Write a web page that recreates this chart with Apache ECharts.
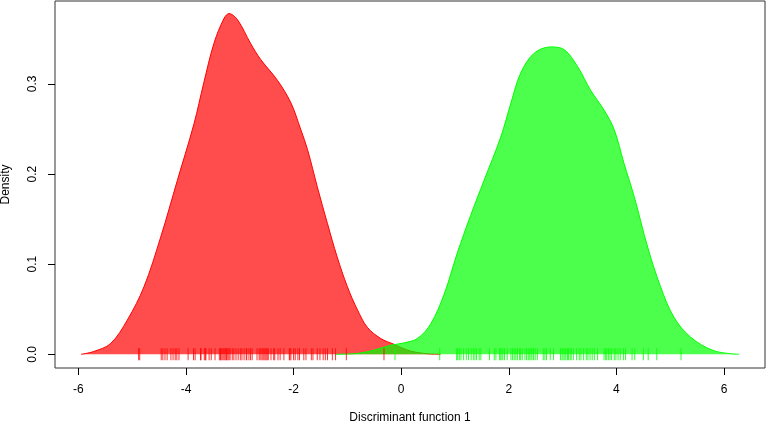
<!DOCTYPE html>
<html>
<head>
<meta charset="utf-8">
<script src="https://cdn.jsdelivr.net/npm/echarts@6/dist/echarts.min.js"></script>
<style>html,body{margin:0;padding:0;background:#fff}#c{width:767px;height:423px}</style>
</head>
<body>
<div id="c"></div>
<script>
// Density curve of group 1 (red)
const redX = [-5.95, -5.72, -5.40, -5.09, -4.78, -4.47, -4.16, -3.85, -3.67, -3.48, -3.29, -3.20, -3.04, -2.80, -2.61, -2.30, -2.05, -1.87, -1.74, -1.56, -1.37, -1.19, -1.00, -0.81, -0.63, -0.38, -0.13, 0.12, 0.42, 0.73];
const redY = [0.0, 0.003, 0.012, 0.038, 0.075, 0.130, 0.193, 0.256, 0.301, 0.345, 0.373, 0.378, 0.371, 0.345, 0.327, 0.304, 0.279, 0.250, 0.227, 0.186, 0.145, 0.108, 0.075, 0.049, 0.030, 0.0175, 0.011, 0.0045, 0.001, 0.0];
// Density curve of group 2 (green)
const greenX = [-1.22, -0.81, -0.51, -0.20, 0.05, 0.30, 0.55, 0.80, 1.04, 1.29, 1.54, 1.85, 2.04, 2.22, 2.47, 2.78, 3.03, 3.28, 3.52, 3.77, 3.96, 4.14, 4.33, 4.58, 4.82, 5.07, 5.38, 5.81, 6.28];
const greenY = [0.0, 0.001, 0.0045, 0.010, 0.0126, 0.0175, 0.034, 0.067, 0.112, 0.154, 0.193, 0.241, 0.279, 0.312, 0.334, 0.341, 0.338, 0.319, 0.293, 0.271, 0.249, 0.212, 0.175, 0.119, 0.075, 0.041, 0.019, 0.004, 0.0];
// Rug observations
const redRug = [-4.88, -4.86, -4.46, -4.43, -4.39, -4.35, -4.28, -4.24, -4.20, -4.17, -4.13, -3.96, -3.86, -3.83, -3.73, -3.72, -3.66, -3.64, -3.63, -3.57, -3.53, -3.46, -3.38, -3.36, -3.35, -3.33, -3.31, -3.29, -3.27, -3.25, -3.24, -3.22, -3.20, -3.18, -3.14, -3.11, -3.07, -3.03, -2.99, -2.96, -2.92, -2.88, -2.87, -2.83, -2.80, -2.77, -2.68, -2.64, -2.62, -2.59, -2.57, -2.55, -2.53, -2.51, -2.49, -2.47, -2.42, -2.37, -2.35, -2.29, -2.25, -2.18, -2.08, -2.07, -2.05, -2.00, -1.97, -1.92, -1.89, -1.81, -1.77, -1.67, -1.64, -1.56, -1.51, -1.45, -1.41, -1.37, -1.28, -1.22, -1.02, -0.32];
const greenRug = [-0.115, 0.716, 1.03, 1.05, 1.08, 1.11, 1.16, 1.21, 1.25, 1.30, 1.34, 1.37, 1.40, 1.45, 1.48, 1.64, 1.73, 1.76, 1.83, 1.84, 1.87, 1.89, 1.92, 1.97, 2.04, 2.07, 2.10, 2.13, 2.16, 2.20, 2.22, 2.25, 2.30, 2.33, 2.36, 2.38, 2.41, 2.43, 2.46, 2.49, 2.53, 2.64, 2.67, 2.70, 2.77, 2.83, 2.96, 2.99, 3.01, 3.04, 3.06, 3.09, 3.11, 3.14, 3.16, 3.20, 3.26, 3.31, 3.34, 3.39, 3.44, 3.47, 3.51, 3.55, 3.59, 3.65, 3.77, 3.80, 3.82, 3.85, 3.88, 3.91, 3.96, 3.99, 4.03, 4.07, 4.13, 4.17, 4.29, 4.34, 4.50, 4.59, 4.75, 5.20];
// Axis ticks
const xTicks = [-6, -4, -2, 0, 2, 4, 6];
const yTicks = [0.0, 0.1, 0.2, 0.3];

const pairs = (xs, ys) => xs.map((x, i) => [x, ys[i]]);
const rug = xs => xs.map(x => [x, 0]);

const chart = echarts.init(document.getElementById('c'), null, {renderer: 'canvas'});
const font = '"Liberation Sans", Arial, Helvetica, sans-serif';
chart.setOption({
  animation: false,
  backgroundColor: '#fff',
  grid: {left: 55, right: 2, top: 1, bottom: 55, show: true, borderColor: '#333', borderWidth: 1,
         backgroundColor: 'transparent', containLabel: false, outerBoundsMode: 'none'},
  xAxis: {
    type: 'value', min: -6.434, max: 6.761,
    name: 'Discriminant function 1', nameLocation: 'middle', nameGap: 44,
    nameTextStyle: {fontFamily: font, fontSize: 12, color: '#000'},
    splitLine: {show: false},
    axisLine: {show: false, onZero: false},
    axisTick: {show: true, length: 7, customValues: xTicks, lineStyle: {color: '#000'}},
    axisLabel: {customValues: xTicks, margin: 16, fontFamily: font, fontSize: 12, color: '#000', formatter: v => String(v)}
  },
  yAxis: {
    type: 'value', min: -0.0152, max: 0.392,
    name: 'Density', nameLocation: 'middle', nameGap: 43, nameRotate: 90,
    nameTextStyle: {fontFamily: font, fontSize: 12, color: '#000'},
    splitLine: {show: false},
    axisLine: {show: false, onZero: false},
    axisTick: {show: true, length: 7, customValues: yTicks, lineStyle: {color: '#000'}},
    axisLabel: {customValues: yTicks, rotate: 90, margin: 16, fontFamily: font, fontSize: 12, color: '#000', formatter: v => v.toFixed(1)}
  },
  series: [
    {
      type: 'line', data: pairs(redX, redY), smooth: 0.35, showSymbol: false,
      lineStyle: {color: '#ff0000', width: 1}, areaStyle: {color: 'rgba(255,0,0,0.7)', opacity: 1, origin: 0}, z: 2
    },
    {
      type: 'line', data: pairs(greenX, greenY), smooth: 0.35, showSymbol: false,
      lineStyle: {color: '#00ff00', width: 1}, areaStyle: {color: 'rgba(0,255,0,0.7)', opacity: 1, origin: 0}, z: 3
    },
    {
      type: 'scatter', data: rug(redRug), symbol: 'rect', symbolSize: [1, 12],
      itemStyle: {color: '#ff0000'}, z: 4
    },
    {
      type: 'scatter', data: rug(greenRug), symbol: 'rect', symbolSize: [1, 12],
      itemStyle: {color: '#00ff00'}, z: 4
    }
  ]
});
</script>
</body>
</html>
